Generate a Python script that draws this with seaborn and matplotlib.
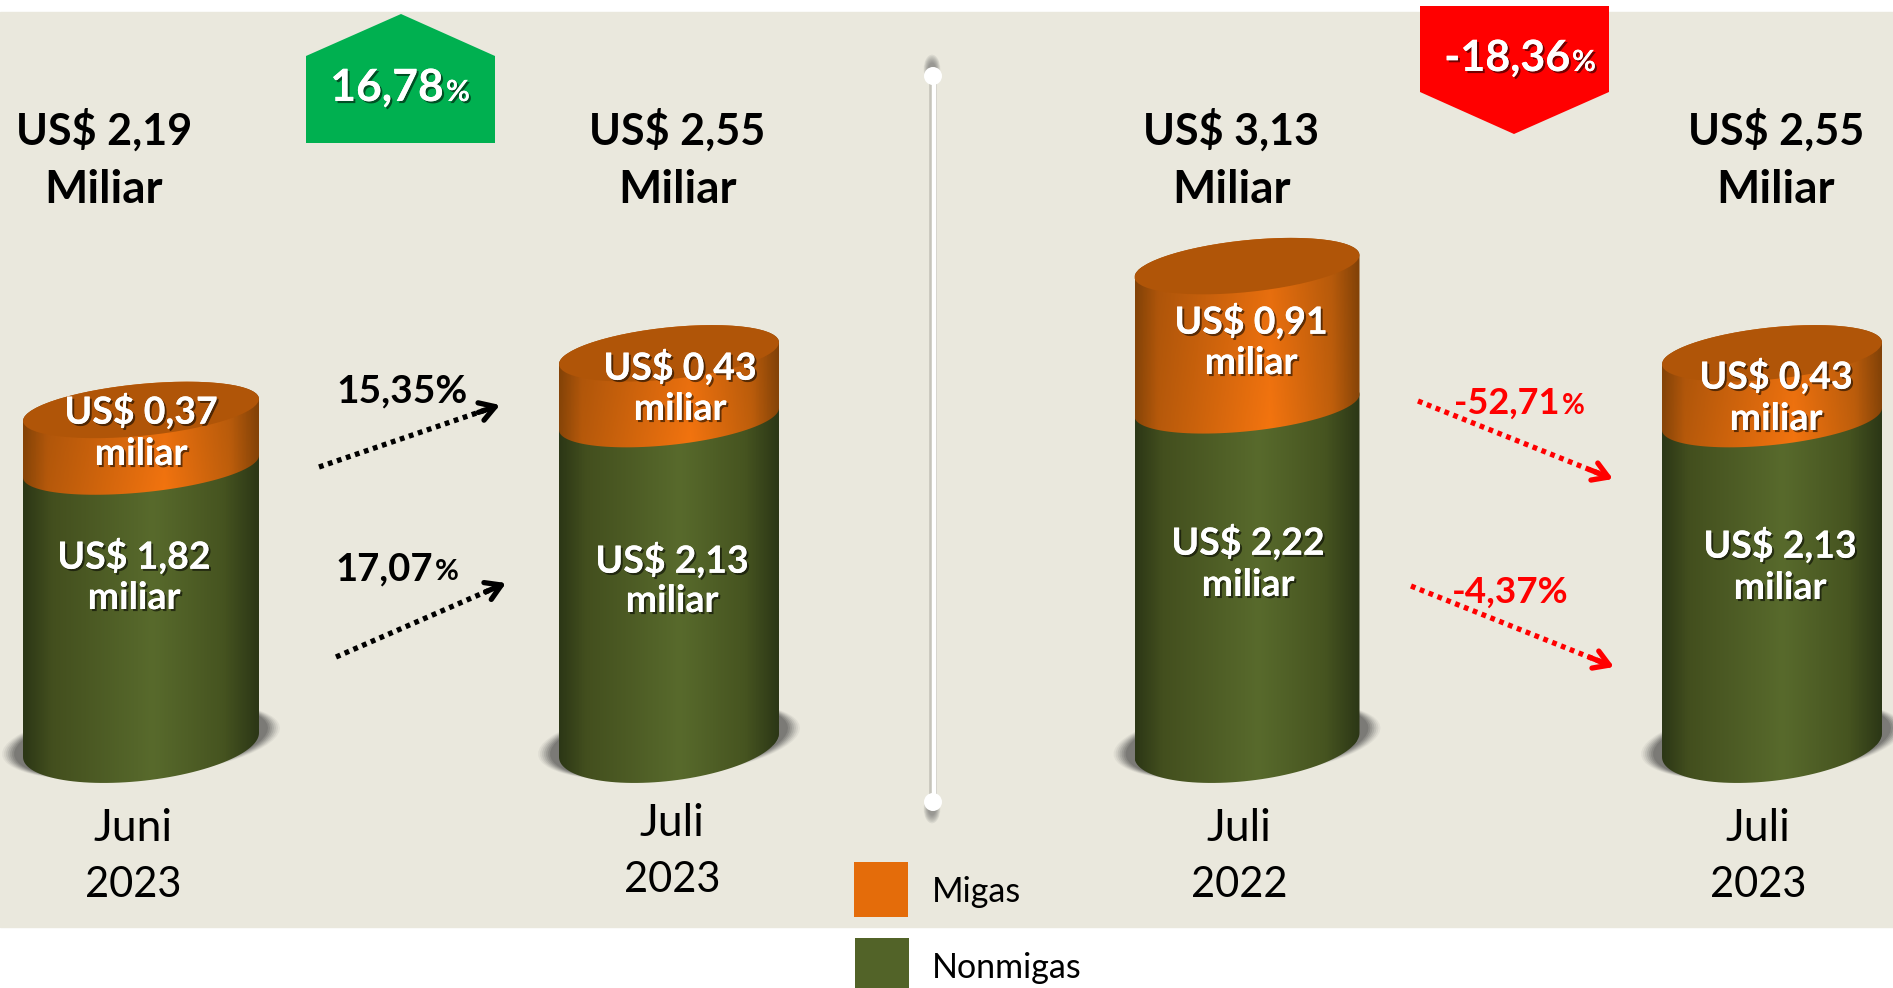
import numpy as np
import pandas as pd
import matplotlib
matplotlib.use("Agg")
import matplotlib.pyplot as plt
import matplotlib.patheffects as pe
from matplotlib.colors import LinearSegmentedColormap
from matplotlib.path import Path
from matplotlib.patches import Polygon, Rectangle, Ellipse
import seaborn as sns

# data
left_periods = ["Juni 2023", "Juli 2023"]
right_periods = ["Juli 2022", "Juli 2023"]
left_migas = [0.37, 0.43]
left_nonmigas = [1.82, 2.13]
right_migas = [0.91, 0.43]
right_nonmigas = [2.22, 2.13]
totals = [2.19, 2.55, 3.13, 2.55]
period_month = ["Juni", "Juli", "Juli", "Juli"]
period_year = ["2023", "2023", "2022", "2023"]
legend_names = ["Migas", "Nonmigas"]

W, H = 1893, 988
BASE_PX = 745      # where value 0 sits
PX_PER_UNIT = 153
BG = "#eae8dd"
GREEN = "#526328"
ORANGE = "#e46c0a"

sns.set_theme(style="white")
plt.rcParams["font.family"] = ["Lato", "DejaVu Sans"]

fig = plt.figure(figsize=(W / 100, H / 100), dpi=100, facecolor="white")
fig.add_artist(Rectangle((0, (H - 927) / H), 1, (927 - 12) / H, transform=fig.transFigure,
                         color=BG, zorder=-1))


def bar_axes(px_left, px_right, first_centre, spacing, periods, nonmigas, migas):
    ax = fig.add_axes([px_left / W, 0, (px_right - px_left) / W, 1], zorder=1)
    df = pd.DataFrame({"period": periods, "nonmigas": nonmigas, "migas": migas})
    sns.barplot(data=df, x="period", y="nonmigas", color=GREEN, saturation=1, width=0.42, ax=ax)
    sns.barplot(data=df, x="period", y="migas", color=ORANGE, saturation=1, width=0.42,
                bottom=df["nonmigas"], ax=ax)
    ax.set_xlim((px_left - first_centre) / spacing, (px_right - first_centre) / spacing)
    ax.set_ylim(-(H - BASE_PX) / PX_PER_UNIT, BASE_PX / PX_PER_UNIT)
    ax.set_axis_off()
    return ax


ax_l = bar_axes(0, 930, 141, 528, left_periods, left_nonmigas, left_migas)
ax_r = bar_axes(940, W, 1247, 525, right_periods, right_nonmigas, right_migas)

# everything decorative goes in a pixel axes on top
ov = fig.add_axes([0, 0, 1, 1], zorder=2)
ov.set_xlim(0, W)
ov.set_ylim(H, 0)
ov.set_autoscale_on(False)
ov.set_axis_off()
ov.patch.set_alpha(0)

green_cm = LinearSegmentedColormap.from_list("g", [(0, "#2c3716"), (0.12, "#434f1e"), (0.55, "#586a2c"),
                                                   (0.85, "#465420"), (1, "#2c3716")])
orange_cm = LinearSegmentedColormap.from_list("o", [(0, "#8a4608"), (0.1, "#b85a0b"), (0.6, "#f5750f"),
                                                    (0.88, "#c2600c"), (1, "#8a4608")])


def arc(cx, cy, w, b, s, t0, t1):
    t = np.linspace(t0, t1, 60)
    return np.column_stack([cx + w / 2 * np.cos(t), cy - s * np.cos(t) + b * np.sin(t)])


def shaded(cx, w, y_top, y_low, cmap, clip, dark_top=False):
    g = np.tile(np.linspace(0, 1, 200), (100, 1))
    rgba = cmap(g)
    if dark_top:
        rgba[..., :3] *= np.linspace(0.92, 1, 100)[:, None, None]
    im = ov.imshow(rgba, extent=[cx - w / 2, cx + w / 2, y_low, y_top], aspect="auto", zorder=2)
    im.set_clip_path(Path(clip), ov.transData)


def cylinder(ax, i, n, width_px):
    # i-th bar of the axes: pixel geometry comes from the seaborn patches
    low, high = ax.patches[i], ax.patches[i + n]
    cx, _ = ax.transData.transform((low.get_x() + low.get_width() / 2, 0))
    y_base = H - ax.transData.transform((0, low.get_y()))[1]
    y_mid = H - ax.transData.transform((0, low.get_y() + low.get_height()))[1]
    y_top = H - ax.transData.transform((0, high.get_y() + high.get_height()))[1]
    w = width_px

    # soft shadow, visible mostly at the two sides
    for grow, alpha in zip([42, 38, 34, 30, 26, 22, 18], [0.06, 0.08, 0.1, 0.12, 0.14, 0.16, 0.18]):
        sh = arc(cx, y_base - 4, w + grow, 35 + grow / 20, 13, 0, 2 * np.pi)
        ov.add_patch(Polygon(sh, closed=True, fc="#333333", ec="none", alpha=alpha, zorder=1))

    body_g = np.vstack([arc(cx, y_base, w, 36, 12, 0, np.pi), arc(cx, y_mid, w, 26, 11, np.pi, 2 * np.pi)])
    body_o = np.vstack([arc(cx, y_mid, w, 26, 11, 0, np.pi), arc(cx, y_top, w, 26, 11, np.pi, 2 * np.pi)])
    for patch, shape in ((low, body_g), (high, body_o)):
        patch.set_clip_path(Path(shape), ov.transData)
    shaded(cx, w, y_mid - 40, y_base + 45, green_cm, body_g)
    shaded(cx, w, y_top - 40, y_mid + 45, orange_cm, body_o, dark_top=True)
    ov.add_patch(Polygon(arc(cx, y_top, w, 26, 11, 0, 2 * np.pi), closed=True, fc="#b05508", ec="none", zorder=3))


cylinder(ax_l, 0, 2, 236)
cylinder(ax_l, 1, 2, 220)
cylinder(ax_r, 0, 2, 225)
cylinder(ax_r, 1, 2, 220)

# divider
for grow in (11, 10, 9, 8, 7, 6, 5):
    ov.add_patch(Ellipse((932, 69), 1.5 * grow, 2.6 * grow, fc="#555555", ec="none", alpha=0.1, zorder=2))
    ov.add_patch(Ellipse((932, 809), 1.5 * grow, 2.6 * grow, fc="#555555", ec="none", alpha=0.1, zorder=2))
ov.plot([933, 933], [76, 802], color="#c6c4ba", lw=5.5, solid_capstyle="butt", zorder=3)
ov.plot([934, 934], [76, 802], color="white", lw=3.2, solid_capstyle="butt", zorder=3)
for y in (76, 802):
    ov.add_patch(Ellipse((933, y), 18, 18, fc="white", ec="none", zorder=4))

# totals above the cylinders
total_x = [104, 677, 1231, 1776]
for x, v in zip(total_x, totals):
    ov.text(x, 130, f"US$ {v:.2f}".replace(".", ","), ha="center", va="center", fontsize=31, fontweight="bold",
            color="black", zorder=5)
    ov.text(x, 190, "Miliar", ha="center", va="center", fontsize=33, fontweight="bold", color="black", zorder=5)

# labels on the cylinders
soft = [pe.withSimplePatchShadow(offset=(1.5, -1.5), shadow_rgbFace="black", alpha=0.55), pe.Normal()]
migas_all = left_migas + right_migas
nonmigas_all = left_nonmigas + right_nonmigas
migas_pos = [(141, 411, 454), (680, 367, 409), (1251, 321, 363), (1776, 376, 419)]
nonmigas_pos = [(134, 556, 598), (672, 560, 601), (1248, 542, 585), (1780, 545, 588)]
for vals, pos in ((migas_all, migas_pos), (nonmigas_all, nonmigas_pos)):
    for v, (x, y1, y2) in zip(vals, pos):
        ov.text(x, y1, f"US$ {v:.2f}".replace(".", ","), ha="center", va="center", fontsize=27, fontweight="bold",
                color="white", zorder=5, path_effects=soft)
        ov.text(x, y2, "miliar", ha="center", va="center", fontsize=27, fontweight="bold",
                color="white", zorder=5, path_effects=soft)

# periods below
period_pos = [(133, 828, 885), (672, 823, 880), (1239, 828, 885), (1758, 828, 885)]
for m, yr, (x, y1, y2) in zip(period_month, period_year, period_pos):
    ov.text(x, y1, m, ha="center", va="center", fontsize=32, color="black", zorder=5)
    ov.text(x, y2, yr, ha="center", va="center", fontsize=30, color="black", zorder=5)

# legend
ov.add_patch(Rectangle((854, 862), 54, 55, fc=ORANGE, ec="none", zorder=5))
ov.add_patch(Rectangle((855, 938), 54, 50, fc=GREEN, ec="none", zorder=5))
ov.text(932, 892, legend_names[0], ha="left", va="center", fontsize=24.5, color="black", zorder=5)
ov.text(932, 968, legend_names[1], ha="left", va="center", fontsize=24.5, color="black", zorder=5)

# change badges
ov.add_patch(Polygon([(306, 143), (306, 56), (401, 14), (495, 56), (495, 143)], closed=True,
                     fc="#00b050", ec="none", zorder=4))
ov.add_patch(Polygon([(1420, 6), (1609, 6), (1609, 92), (1514, 134), (1420, 92)], closed=True,
                     fc="#ff0000", ec="none", zorder=4))
ov.text(444, 88, "16,78", ha="right", va="center", fontsize=32, fontweight="bold",
        color="white", zorder=5, path_effects=soft)
ov.text(446, 93, "%", ha="left", va="center", fontsize=21, fontweight="bold",
        color="white", zorder=5, path_effects=soft)
ov.text(1570, 58, "-18,36", ha="right", va="center", fontsize=31, fontweight="bold",
        color="white", zorder=5, path_effects=soft)
ov.text(1572, 63, "%", ha="left", va="center", fontsize=21, fontweight="bold",
        color="white", zorder=5, path_effects=soft)

# percent labels with the small % sign where the source has one
ov.text(336, 391, "15,35%", ha="left", va="center", fontsize=28, fontweight="bold", color="black", zorder=5)
ov.text(433, 569, "17,07", ha="right", va="center", fontsize=27.5, fontweight="bold", color="black", zorder=5)
ov.text(435, 572, "%", ha="left", va="center", fontsize=21, fontweight="bold", color="black", zorder=5)
ov.text(1560, 403, "-52,71", ha="right", va="center", fontsize=26, fontweight="bold", color="#ff0000", zorder=5)
ov.text(1562, 406, "%", ha="left", va="center", fontsize=20, fontweight="bold", color="#ff0000", zorder=5)
ov.text(1452, 592, "-4,37%", ha="left", va="center", fontsize=26.5, fontweight="bold", color="#ff0000", zorder=5)

# dotted arrows
arrows = [((319, 467), (500, 405), "black"), ((336, 657), (506, 583), "black"),
          ((1418, 401), (1613, 479), "#ff0000"), ((1411, 586), (1614, 667), "#ff0000")]
for p0, p1, c in arrows:
    p0, p1 = np.array(p0), np.array(p1)
    ov.plot([p0[0], p1[0] - 0.04 * (p1[0] - p0[0])], [p0[1], p1[1] - 0.04 * (p1[1] - p0[1])], color=c, lw=3.8,
            linestyle=(0, (0.9, 0.9)), zorder=4)
    ov.annotate("", xy=p1, xytext=p1 - 0.12 * (p1 - p0), zorder=4,
                arrowprops=dict(arrowstyle="->,head_length=0.9,head_width=0.55", color=c, lw=3.8,
                                shrinkA=0, shrinkB=0))

fig.savefig("out.png", dpi=100, facecolor="white")
